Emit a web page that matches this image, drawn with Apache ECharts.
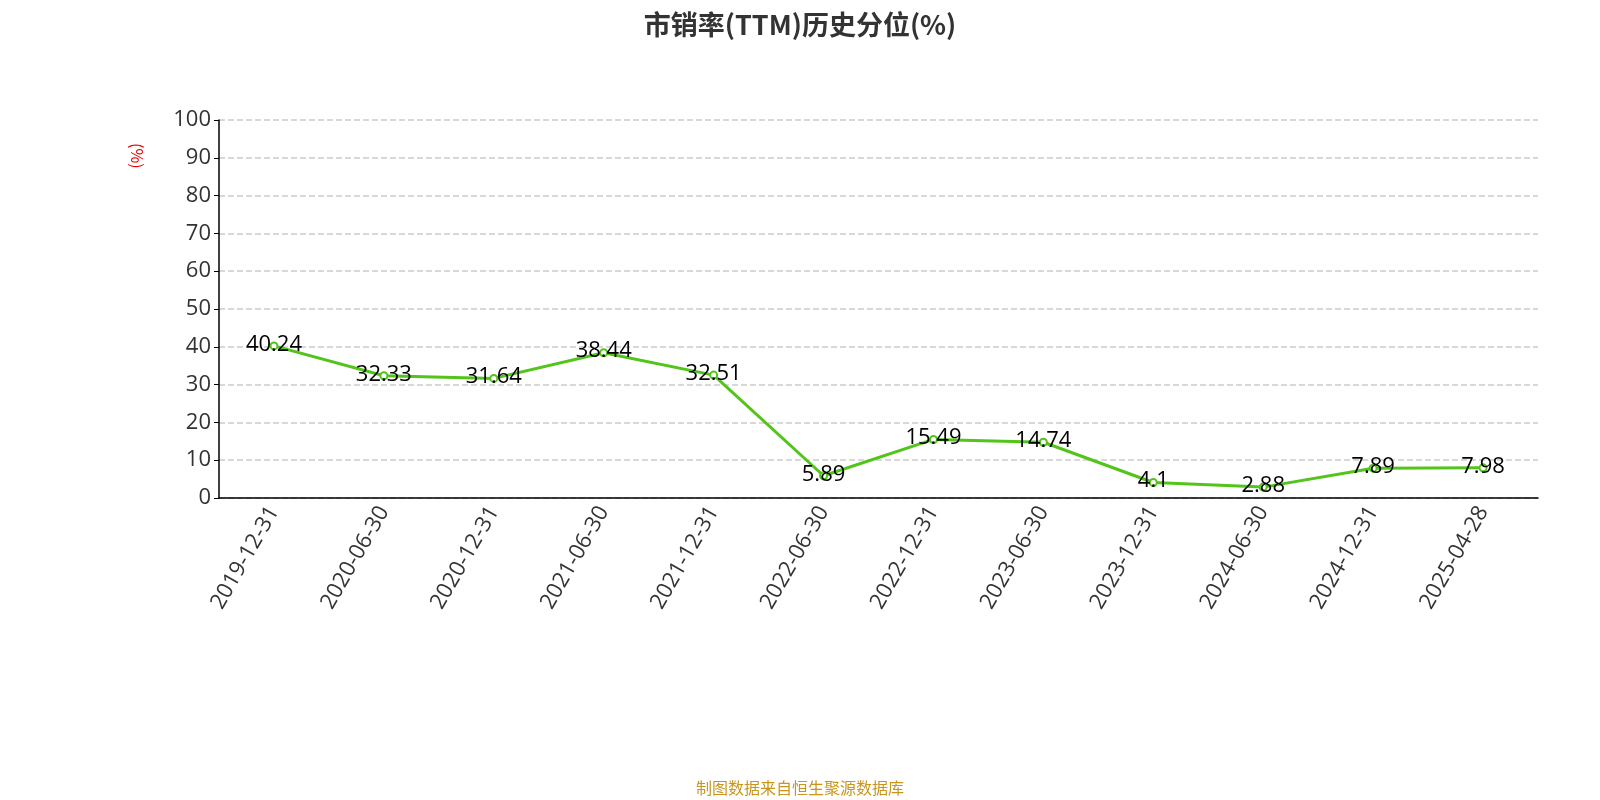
<!DOCTYPE html>
<html><head><meta charset="utf-8">
<script src="https://cdn.jsdelivr.net/npm/echarts@6/dist/echarts.min.js"></script>
<style>html,body{margin:0;padding:0}#c{width:1600px;height:800px}</style>
</head><body><div id="c"></div>
<script>
const categories=['2019-12-31','2020-06-30','2020-12-31','2021-06-30','2021-12-31','2022-06-30','2022-12-31','2023-06-30','2023-12-31','2024-06-30','2024-12-31','2025-04-28'];
const values=[40.24,32.33,31.64,38.44,32.51,5.89,15.49,14.74,4.1,2.88,7.89,7.98];
const yTicks={min:0,max:100,interval:10};
const F='Open Sans';
const chart=echarts.init(document.getElementById('c'));
chart.setOption({
 title:{text:'市销率(TTM)历史分位(%)',left:'center',top:6,textStyle:{fontSize:27,fontWeight:'bold',color:'#333',fontFamily:'Noto Sans CJK SC'}},
 graphic:[{type:'text',left:'center',top:780,style:{text:'制图数据来自恒生聚源数据库',fill:'#c8961e',fontSize:16,fontFamily:'Noto Sans CJK SC'}},
   {type:'text',x:145,y:143,rotation:-Math.PI/2,style:{text:'(%)',fill:'#e00',fontSize:16,fontFamily:'Noto Sans CJK SC'}}],
 grid:{left:219,right:62,top:120,bottom:302},
 xAxis:{type:'category',data:categories,boundaryGap:true,
   axisLine:{lineStyle:{color:'#000',width:1.5}},axisTick:{lineStyle:{color:'#000'},length:6},
   axisLabel:{rotate:60,fontSize:22,color:'#333',margin:10,interval:0,fontFamily:F}},
 yAxis:{type:'value',min:yTicks.min,max:yTicks.max,interval:yTicks.interval,
   axisLine:{show:true,lineStyle:{color:'#000',width:1.5}},axisTick:{show:true,lineStyle:{color:'#000'}},
   axisLabel:{fontSize:22,color:'#333',fontFamily:F},
   splitLine:{lineStyle:{type:'dashed',color:'#ccc',width:1.5}}},
 series:[{type:'line',data:values,symbol:'emptyCircle',symbolSize:7,
   itemStyle:{color:'#52c41a',borderColor:'#52c41a',borderWidth:1.5},
   lineStyle:{color:'#52c41a',width:3},
   label:{show:true,position:'top',offset:[0,19],fontSize:22,color:'#000',fontFamily:F}}]
});
</script></body></html>
